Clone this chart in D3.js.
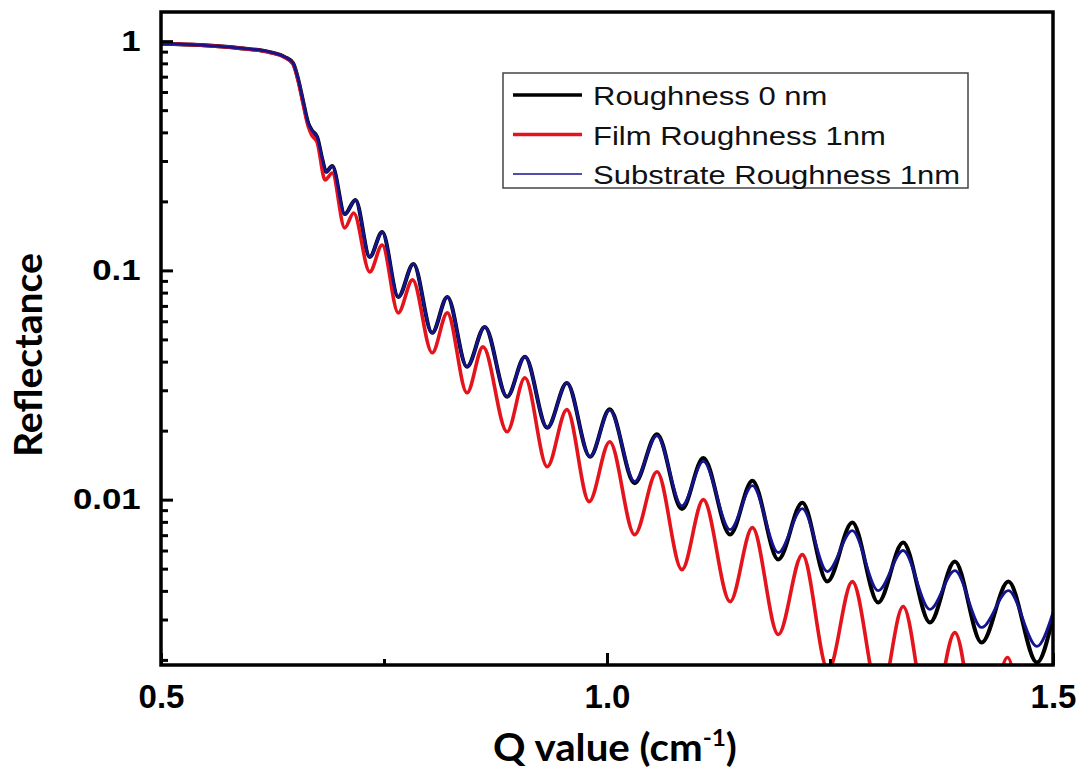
<!DOCTYPE html>
<html>
<head>
<meta charset="utf-8">
<script src="https://cdn.jsdelivr.net/npm/d3@7"></script>
<style>
  body { margin: 0; background: #fff; }
  svg { display: block; }
</style>
</head>
<body>
<div id="chart"></div>
<script>
// values
const qBlack = [0.500,0.544,0.589,0.622,0.639,0.648,0.654,0.659,0.665,0.669,0.675,0.681,0.685,0.692,0.706,0.718,0.734,0.748,0.766,0.783,0.804,0.821,0.843,0.863,0.888,0.908,0.933,0.955,0.981,1.003,1.031,1.056,1.084,1.108,1.138,1.163,1.192,1.219,1.247,1.275,1.304,1.332,1.362,1.390,1.420,1.450,1.482,1.500];
const rBlack = [0.975,0.961,0.932,0.896,0.852,0.802,0.676,0.553,0.439,0.409,0.382,0.303,0.269,0.285,0.176,0.203,0.1145,0.147,0.0766,0.1067,0.0534,0.0766,0.0380,0.0567,0.0281,0.0420,0.0206,0.0323,0.0154,0.0248,0.0118,0.0193,0.0091,0.0152,0.00704,0.01210,0.00548,0.00970,0.00439,0.00794,0.00356,0.00650,0.00291,0.00537,0.00238,0.00439,0.00195,0.00309];

const qBlue = [0.500,0.544,0.589,0.622,0.639,0.648,0.654,0.659,0.665,0.669,0.675,0.681,0.685,0.692,0.706,0.718,0.734,0.748,0.766,0.783,0.804,0.821,0.843,0.863,0.888,0.908,0.933,0.955,0.981,1.003,1.031,1.056,1.084,1.108,1.138,1.163,1.192,1.219,1.247,1.275,1.304,1.332,1.362,1.390,1.420,1.450,1.482,1.500];
const rBlue = [0.975,0.961,0.932,0.896,0.852,0.802,0.676,0.553,0.439,0.409,0.382,0.303,0.269,0.285,0.176,0.203,0.1145,0.147,0.0766,0.1067,0.0534,0.0766,0.0380,0.0567,0.0281,0.0420,0.0206,0.0323,0.0154,0.0246,0.0120,0.0190,0.0094,0.0147,0.00740,0.01151,0.00588,0.00913,0.00486,0.00733,0.00401,0.00600,0.00332,0.00490,0.00277,0.00401,0.00229,0.00322];

const qRed = [0.500,0.544,0.589,0.622,0.639,0.648,0.654,0.659,0.665,0.669,0.675,0.684,0.692,0.706,0.716,0.734,0.748,0.766,0.782,0.804,0.821,0.843,0.861,0.888,0.908,0.933,0.955,0.980,1.003,1.031,1.056,1.084,1.108,1.138,1.163,1.192,1.219,1.248,1.275,1.306,1.332,1.362,1.390,1.420,1.449,1.480,1.500];
const rRed = [0.975,0.961,0.930,0.893,0.848,0.795,0.665,0.540,0.425,0.389,0.363,0.248,0.266,0.1532,0.178,0.0985,0.129,0.0653,0.0909,0.0437,0.0653,0.02925,0.0464,0.01978,0.0340,0.01392,0.0247,0.0098,0.01789,0.00704,0.01324,0.00495,0.0100,0.00359,0.00755,0.00258,0.00576,0.00180,0.00439,0.00134,0.00342,0.00100,0.00263,0.00074,0.00205,0.00049,0.0008];

const seriesNames = ["Roughness 0 nm", "Film Roughness 1nm", "Substrate Roughness 1nm"];
const seriesColors = ["#000000", "#e3141c", "#14148f"];
const xTickLabels = ["0.5", "1.0", "1.5"];
const yTickLabels = ["1", "0.1", "0.01"];

const W = 1083, H = 769;
const plot = { left: 161, top: 12, right: 1053, bottom: 665 };

const svg = d3.select("#chart").append("svg")
    .attr("width", W)
    .attr("height", H);

svg.append("rect").attr("width", W).attr("height", H).attr("fill", "#fff");

// Scales
const x = d3.scaleLinear().domain([0.5, 1.5]).range([plot.left, plot.right]);
const y = d3.scaleLog().domain([0.0019, 1.34]).range([plot.bottom, plot.top]);

svg.append("clipPath").attr("id", "clip")
    .append("rect")
    .attr("x", plot.left).attr("y", plot.top)
    .attr("width", plot.right - plot.left)
    .attr("height", plot.bottom - plot.top);

// Curves
const line = d3.line()
    .x(d => x(d[0]))
    .y(d => y(d[1]))
    .curve(d3.curveMonotoneX);

const curves = [
    { q: qBlack, r: rBlack, color: seriesColors[0], w: 4 },
    { q: qRed, r: rRed, color: seriesColors[1], w: 3.6 },
    { q: qBlue, r: rBlue, color: seriesColors[2], w: 2.8 }
];

const gCurves = svg.append("g").attr("clip-path", "url(#clip)");
curves.forEach(c => {
    gCurves.append("path")
        .datum(c.q.map((q, i) => [q, c.r[i]]))
        .attr("d", line)
        .attr("fill", "none")
        .attr("stroke", c.color)
        .attr("stroke-width", c.w)
        .attr("stroke-linejoin", "round");
});

// Axes (ticks point inward)
const xMajor = svg.append("g")
    .attr("transform", `translate(0,${plot.bottom})`)
    .call(d3.axisBottom(x).tickValues([0.5, 1, 1.5]).tickSize(-12).tickPadding(20)
        .tickFormat((d, i) => xTickLabels[i]));

svg.append("g")
    .attr("transform", `translate(0,${plot.bottom})`)
    .call(d3.axisBottom(x).tickValues([0.75, 1.25]).tickSize(-6).tickFormat(""));

const yMajor = svg.append("g")
    .attr("transform", `translate(${plot.left},0)`)
    .call(d3.axisLeft(y).tickValues([1, 0.1, 0.01]).tickSize(-12).tickPadding(17)
        .tickFormat((d, i) => yTickLabels[i]));

const minorY = [];
[0.001, 0.01, 0.1].forEach(p => {
    for (let k = 2; k <= 9; k++) {
        const v = k * p;
        if (v >= 0.0019 && v <= 1.34) minorY.push(v);
    }
});
svg.append("g")
    .attr("transform", `translate(${plot.left},0)`)
    .call(d3.axisLeft(y).tickValues(minorY).tickSize(-7).tickFormat(""));

svg.selectAll(".domain").remove();
svg.selectAll(".tick line").attr("stroke", "#000").attr("stroke-width", 3);

xMajor.selectAll("text")
    .attr("font-family", "'Liberation Sans', Arial, sans-serif")
    .attr("font-weight", "bold")
    .attr("font-size", 33)
    .attr("fill", "#000");

yMajor.selectAll("text")
    .attr("font-family", "'Liberation Sans', Arial, sans-serif")
    .attr("font-weight", "bold")
    .attr("font-size", 29)
    .attr("fill", "#000")
    .attr("transform", "scale(1.2,1)");

// Frame
svg.append("rect")
    .attr("x", plot.left).attr("y", plot.top)
    .attr("width", plot.right - plot.left)
    .attr("height", plot.bottom - plot.top)
    .attr("fill", "none")
    .attr("stroke", "#000")
    .attr("stroke-width", 3.5);

// Axis titles
svg.append("text")
    .attr("transform", "translate(42,355) rotate(-90)")
    .attr("text-anchor", "middle")
    .attr("font-family", "Lato, sans-serif")
    .attr("font-weight", "bold")
    .attr("font-size", 38)
    .attr("textLength", 204)
    .attr("lengthAdjust", "spacingAndGlyphs")
    .text("Reflectance");

const xt = svg.append("g")
    .attr("transform", "translate(615,761) scale(1.06,1)")
    .append("text")
    .attr("text-anchor", "middle")
    .attr("font-family", "Lato, sans-serif")
    .attr("font-weight", "bold")
    .attr("font-size", 38);
xt.append("tspan").text("Q value (cm");
xt.append("tspan").attr("font-size", 23).attr("dy", -15).text("-1");
xt.append("tspan").attr("dy", 15).text(")");

// Legend
const legend = svg.append("g");
legend.append("rect")
    .attr("x", 503).attr("y", 73)
    .attr("width", 465).attr("height", 115)
    .attr("fill", "#fff")
    .attr("stroke", "#444")
    .attr("stroke-width", 1.5);

const legendWidths = [3.5, 3.5, 1.5];
const legendRow = d3.scaleLinear().domain([0, 2]).range([95, 174]);
seriesNames.forEach((name, i) => {
    const yy = legendRow(i);
    legend.append("line")
        .attr("x1", 513).attr("x2", 582)
        .attr("y1", yy).attr("y2", yy)
        .attr("stroke", seriesColors[i])
        .attr("stroke-width", legendWidths[i]);
    legend.append("text")
        .attr("transform", `translate(593,${yy + 10}) scale(1.17,1)`)
        .attr("font-family", "'Liberation Sans', Arial, sans-serif")
        .attr("font-size", 26.5)
        .attr("fill", "#111")
        .text(name);
});
</script>
</body>
</html>
